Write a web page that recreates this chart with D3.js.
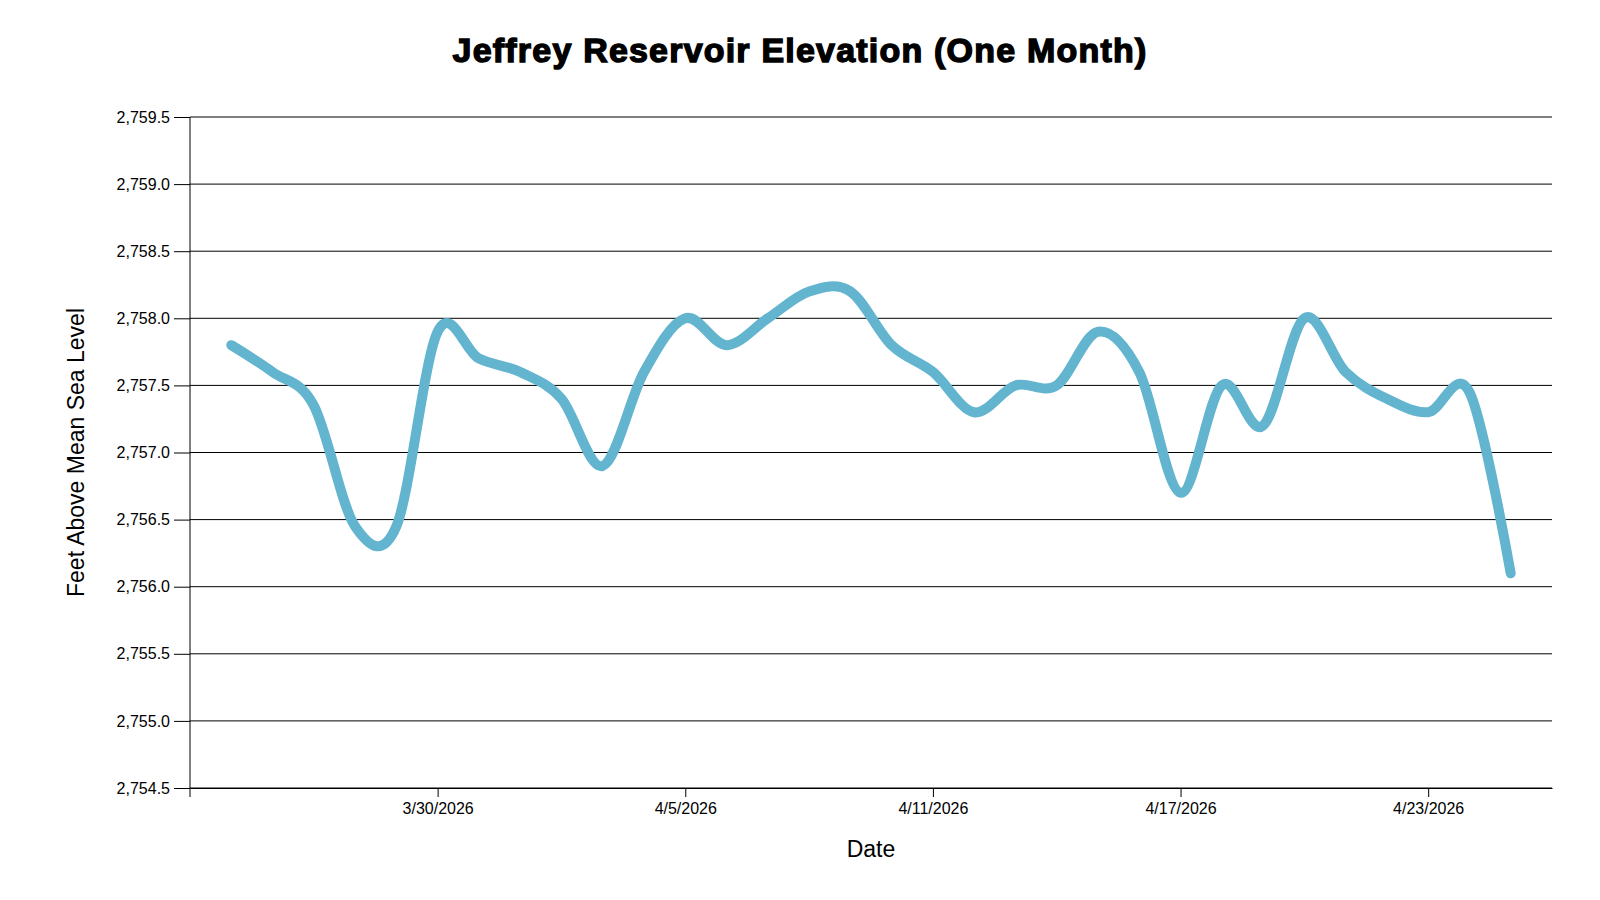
<!DOCTYPE html>
<html>
<head>
<meta charset="utf-8">
<script src="https://cdn.jsdelivr.net/npm/d3@7"></script>
<style>
  body { margin: 0; background: #fff; }
  svg { display: block; font-family: "Liberation Sans", Arial, sans-serif; }
</style>
</head>
<body>
<div id="chart"></div>
<script>
// Daily elevation readings, 3/25/2026 .. 4/25/2026
const dates = [
  "2026-03-25", "2026-03-26", "2026-03-27", "2026-03-28", "2026-03-29", "2026-03-30",
  "2026-03-31", "2026-04-01", "2026-04-02", "2026-04-03", "2026-04-04", "2026-04-05",
  "2026-04-06", "2026-04-07", "2026-04-08", "2026-04-09", "2026-04-10", "2026-04-11",
  "2026-04-12", "2026-04-13", "2026-04-14", "2026-04-15", "2026-04-16", "2026-04-17",
  "2026-04-18", "2026-04-19", "2026-04-20", "2026-04-21", "2026-04-22", "2026-04-23",
  "2026-04-24", "2026-04-25"
];
const elevations = [
  2757.8, 2757.6, 2757.35, 2756.45, 2756.45, 2757.9,
  2757.7, 2757.6, 2757.4, 2756.9, 2757.6, 2758.0,
  2757.8, 2758.0, 2758.2, 2758.2, 2757.8, 2757.6,
  2757.3, 2757.5, 2757.5, 2757.9, 2757.6, 2756.7,
  2757.5, 2757.2, 2758.0, 2757.6, 2757.4, 2757.3,
  2757.45, 2756.1
];
const xDomain = ["2026-03-24", "2026-04-26"];
const xTickDates = ["2026-03-30", "2026-04-05", "2026-04-11", "2026-04-17", "2026-04-23"];
const yDomain = [2754.5, 2759.5];
const yTicks = [2754.5, 2755.0, 2755.5, 2756.0, 2756.5, 2757.0, 2757.5, 2758.0, 2758.5, 2759.0, 2759.5];

const width = 1600, height = 900;
const margin = { top: 117, right: 48, bottom: 112, left: 190 };
const innerW = width - margin.left - margin.right;
const innerH = height - margin.top - margin.bottom;

const parse = d3.timeParse("%Y-%m-%d");
const data = dates.map((d, i) => ({ date: parse(d), value: elevations[i] }));

const svg = d3.select("#chart").append("svg")
    .attr("width", width)
    .attr("height", height);

const g = svg.append("g")
    .attr("transform", `translate(${margin.left},${margin.top})`);

const x = d3.scaleTime()
    .domain(xDomain.map(parse))
    .range([0, innerW]);

const y = d3.scaleLinear()
    .domain(yDomain)
    .range([innerH, 0]);

// horizontal grid lines
g.append("g")
    .selectAll("line")
    .data(yTicks)
    .join("line")
    .attr("x1", 0)
    .attr("x2", innerW)
    .attr("y1", d => y(d))
    .attr("y2", d => y(d))
    .attr("stroke", "#000")
    .attr("stroke-width", 1);

// y axis: ticks + labels
const yAxis = g.append("g")
    .call(d3.axisLeft(y).tickValues(yTicks).tickFormat(d3.format(",.1f"))
        .tickSizeInner(16).tickSizeOuter(0).tickPadding(4));
yAxis.select(".domain").remove();
yAxis.selectAll("line").attr("stroke", "#000");
yAxis.selectAll("text")
    .attr("fill", "#000")
    .style("font-size", "16px")
    .style("font-family", "'Liberation Sans', Arial, sans-serif");

// x axis
const fmtDate = d => `${d.getMonth() + 1}/${d.getDate()}/${d.getFullYear()}`;
const xAxis = g.append("g")
    .attr("transform", `translate(0,${innerH})`)
    .call(d3.axisBottom(x).tickValues(xTickDates.map(parse)).tickFormat(fmtDate)
        .tickSizeInner(9).tickSizeOuter(0).tickPadding(6));
xAxis.select(".domain").attr("stroke", "#000");
xAxis.selectAll("line").attr("stroke", "#000");
xAxis.selectAll("text")
    .attr("fill", "#000")
    .style("font-size", "16px")
    .style("font-family", "'Liberation Sans', Arial, sans-serif");

// vertical axis line (runs a little below the x axis)
g.append("line")
    .attr("x1", 0).attr("x2", 0)
    .attr("y1", 0).attr("y2", innerH + 9)
    .attr("stroke", "#000")
    .attr("stroke-width", 1);

// the elevation line
const line = d3.line()
    .x(d => x(d.date))
    .y(d => y(d.value))
    .curve(d3.curveCardinal);

g.append("path")
    .datum(data)
    .attr("fill", "none")
    .attr("stroke", "#63b4cf")
    .attr("stroke-width", 10)
    .attr("stroke-linecap", "round")
    .attr("stroke-linejoin", "round")
    .attr("d", line);

// title
svg.append("text")
    .attr("x", width / 2)
    .attr("y", 62)
    .attr("text-anchor", "middle")
    .style("font-size", "34px")
    .style("font-weight", "bold")
    .style("letter-spacing", "1.2px")
    .style("font-family", "'Liberation Sans', Arial, sans-serif")
    .attr("fill", "#000")
    .attr("stroke", "#000")
    .attr("stroke-width", 1.4)
    .text("Jeffrey Reservoir Elevation (One Month)");

// axis titles
svg.append("text")
    .attr("x", margin.left + innerW / 2)
    .attr("y", 857)
    .attr("text-anchor", "middle")
    .style("font-size", "23px")
    .attr("fill", "#000")
    .text("Date");

svg.append("text")
    .attr("transform", `translate(84,${margin.top + innerH / 2}) rotate(-90)`)
    .attr("text-anchor", "middle")
    .style("font-size", "23px")
    .attr("fill", "#000")
    .text("Feet Above Mean Sea Level");
</script>
</body>
</html>
